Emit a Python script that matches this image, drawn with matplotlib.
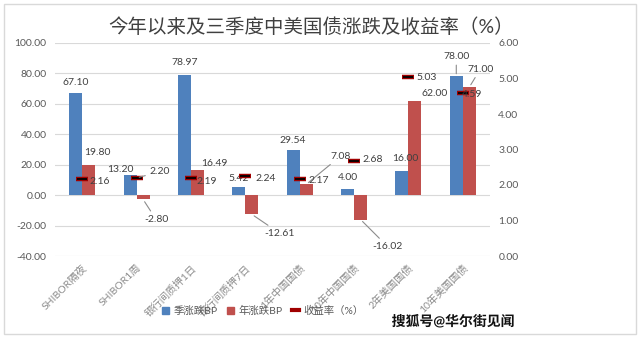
import numpy as np
import matplotlib
matplotlib.use("Agg")
import matplotlib.pyplot as plt
import matplotlib.patches as patches
from matplotlib.lines import Line2D
import matplotlib.patheffects as pe

plt.rcParams['font.family'] = ['Lato', 'Noto Sans CJK SC', 'DejaVu Sans']

categories = ['SHIBOR隔夜', 'SHIBOR1周', '银行间质押1日', '银行间质押7日',
              '1年中国国债', '10年中国国债', '2年美国国债', '10年美国国债']
quarter_bp = [67.10, 13.20, 78.97, 5.42, 29.54, 4.00, 16.00, 78.00]
year_bp = [19.80, -2.80, 16.49, -12.61, 7.08, -16.02, 62.00, 71.00]
yield_pct = [2.16, 2.20, 2.19, 2.24, 2.17, 2.68, 5.03, 4.59]

# label offsets in pixels (dx, dy up), and whether a leader line is drawn
blue_off = [(0, 11), (-10, 6), (0, 12), (0, 8), (0, 10), (0, 12), (3, 12), (0, 20)]
blue_lead = [False] * 7 + [True]
red_off = [(9, 13), (13, -20), (17, 7), (28, -19), (34, 28), (27, -27), (20, 7), (11, 18)]
red_lead = [False, True, False, True, True, True, False, True]
yld_off = [(18, -2), (23, 6), (16, -3), (20, -2), (19, -2), (19, 1), (18, 0), (9, -1)]
yld_lead = [False, True, False, False, False, False, False, False]

BLUE = '#4F81BD'
RED = '#C0504D'
TXT = '#404040'
DPI = 100
px = 72 / DPI

fig = plt.figure(figsize=(6.4, 3.38), dpi=DPI)
ax = fig.add_axes([55 / 640, 1 - 256 / 338, 435 / 640, 213 / 338])
ax2 = ax.twinx()

x = np.arange(len(categories))
w = 0.24
ax.bar(x - w / 2, quarter_bp, w, color=BLUE, zorder=3)
ax.bar(x + w / 2, year_bp, w, color=RED, zorder=3)

ax.set_ylim(-40, 100)
ax.set_yticks(np.arange(-40, 101, 20))
ax.set_yticklabels(['%.2f' % v for v in np.arange(-40, 101, 20)])
ax.set_xlim(-0.5, len(categories) - 0.5)
ax.grid(axis='y', color='#d9d9d9', lw=0.8, zorder=0)
ax.set_xticks(x)
ax.set_xticklabels(categories, rotation=45, ha='right', va='top',
                   rotation_mode='anchor', fontsize=7.5, color='#8c8c8c')
ax.tick_params(axis='x', length=0, pad=5)
ax.tick_params(axis='y', length=0, labelsize=7.5, labelcolor='#595959', pad=6)

ax2.set_ylim(0, 6)
ax2.set_yticks(np.arange(0, 7, 1))
ax2.set_yticklabels(['%.2f' % v for v in range(7)])
ax2.tick_params(axis='y', length=0, labelsize=7.5, labelcolor='#595959', pad=6)
for a in (ax, ax2):
    for s in a.spines.values():
        s.set_visible(False)

ax2.plot(x, yield_pct, ls='none', marker='_', ms=8, mew=3.2, color='#a00000', zorder=4)
ax2.plot(x, yield_pct, ls='none', marker='_', ms=6.5, mew=1.3, color='#000000', zorder=5)

lead = dict(arrowstyle='-', color='#8c8c8c', lw=0.8, shrinkA=1, shrinkB=2)

for i, v in enumerate(quarter_bp):
    dx, dy = blue_off[i]
    ax.annotate('%.2f' % v, (x[i] - w / 2, v), xytext=(dx * px, dy * px),
                textcoords='offset points', ha='center', va='center',
                fontsize=7.5, color=TXT, zorder=6,
                arrowprops=lead if blue_lead[i] else None)

for i, v in enumerate(year_bp):
    dx, dy = red_off[i]
    ax.annotate('%.2f' % v, (x[i] + w / 2, v), xytext=(dx * px, dy * px),
                textcoords='offset points', ha='center', va='center',
                fontsize=7.5, color=TXT, zorder=6,
                arrowprops=lead if red_lead[i] else None)

for i, v in enumerate(yield_pct):
    dx, dy = yld_off[i]
    ax2.annotate('%.2f' % v, (x[i], v), xytext=(dx * px, dy * px),
                 textcoords='offset points', ha='center', va='center',
                 fontsize=7.5, color=TXT, zorder=6,
                 arrowprops=lead if yld_lead[i] else None)

handles = [patches.Patch(color=BLUE), patches.Patch(color=RED),
           Line2D([], [], color='#a00000', lw=3)]
leg = fig.legend(handles, ['季涨跌BP', '年涨跌BP', '收益率（%）'], ncol=3,
                 loc='center', bbox_to_anchor=(263 / 640, 1 - 311 / 338),
                 frameon=False, fontsize=7.5, handlelength=0.7, handleheight=0.7,
                 handletextpad=0.4, columnspacing=0.9)
for t in leg.get_texts():
    t.set_color('#595959')

fig.text(311 / 640, 1 - 27 / 338, '今年以来及三季度中美国债涨跌及收益率（%）',
         ha='center', va='center', fontsize=14, color=TXT)

fig.text(453 / 640, 1 - 321 / 338, '搜狐号@华尔街见闻', ha='center', va='center',
         fontsize=10, fontweight='bold', color='#111111',
         path_effects=[pe.withStroke(linewidth=2.5, foreground='white')])

fig.patches.append(patches.Rectangle((0.006, 0.012), 0.988, 0.976, fill=False,
                                     edgecolor='#d9d9d9', lw=1,
                                     transform=fig.transFigure))

fig.savefig('out.png', dpi=DPI)
